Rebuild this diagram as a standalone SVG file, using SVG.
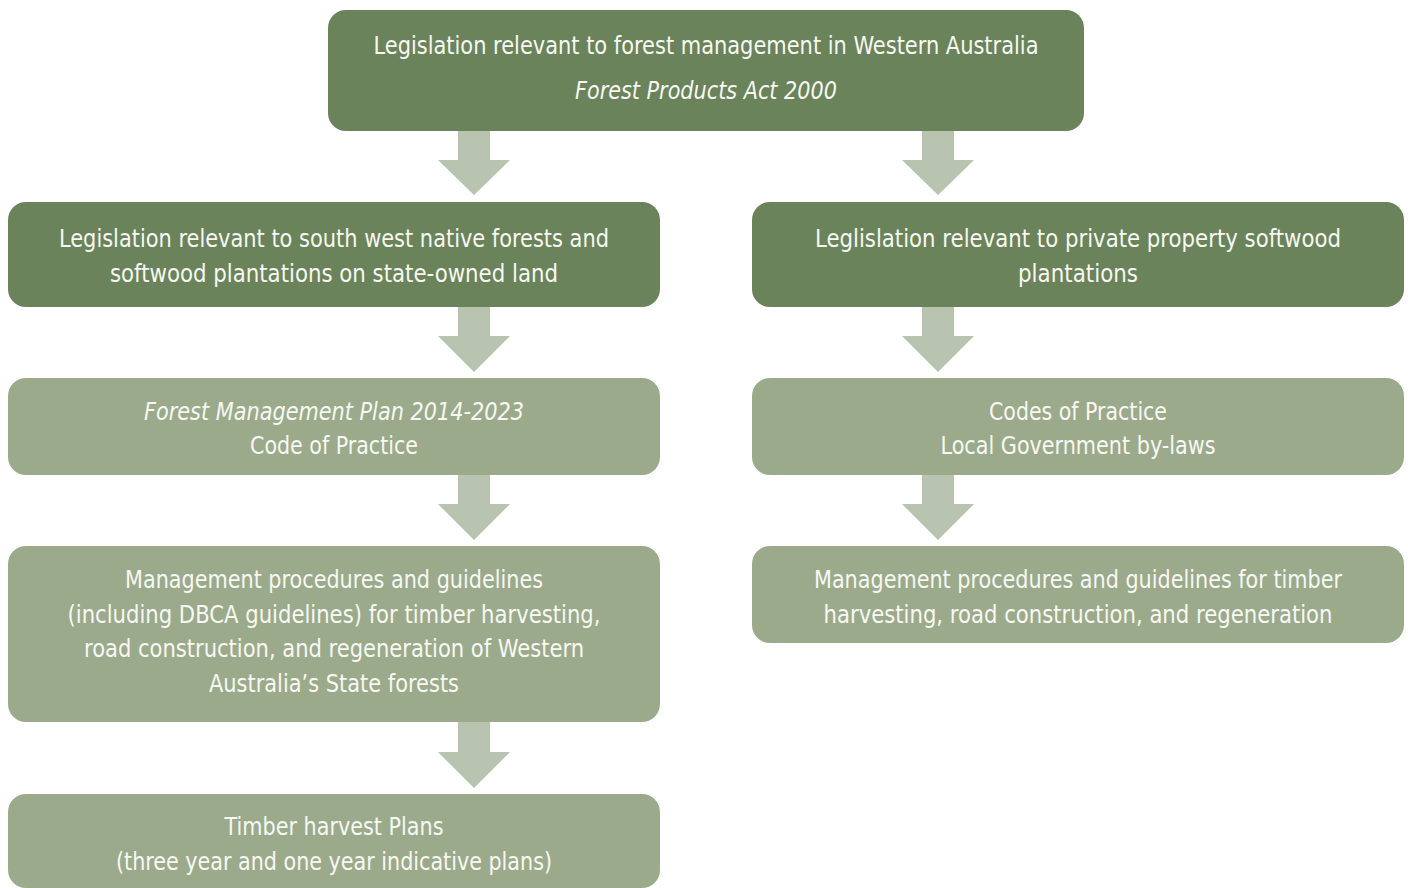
<svg xmlns="http://www.w3.org/2000/svg" width="1408" height="888" viewBox="0 0 1408 888">
<style>
.dark{fill:#6a835a}
.light{fill:#9caa8c}
.arrow{fill:#b8c3b0}
text{font-family:"Liberation Sans Narrow","DejaVu Sans Condensed","Liberation Sans",sans-serif;font-size:25px;fill:#f7f8f3;text-anchor:middle}
.it{font-style:italic}
</style>
<rect width="1408" height="888" fill="#ffffff"/>
<g id="connectors">
<path class="arrow" d="M458,131 H490 V160 H510 L474,195 L438,160 H458 Z"/>
<path class="arrow" d="M922,131 H954 V160 H974 L938,195 L902,160 H922 Z"/>
<path class="arrow" d="M458,307 H490 V336 H510 L474,372 L438,336 H458 Z"/>
<path class="arrow" d="M922,307 H954 V336 H974 L938,372 L902,336 H922 Z"/>
<path class="arrow" d="M458,475 H490 V504 H510 L474,540 L438,504 H458 Z"/>
<path class="arrow" d="M922,475 H954 V504 H974 L938,540 L902,504 H922 Z"/>
<path class="arrow" d="M458,722 H490 V752 H510 L474,788 L438,752 H458 Z"/>
</g>
<g id="top">
<rect class="dark" x="328" y="10" width="756" height="121" rx="18"/>
<text x="706" y="54" textLength="665" lengthAdjust="spacingAndGlyphs">Legislation relevant to forest management in Western Australia</text>
<text class="it" x="706" y="99" textLength="262" lengthAdjust="spacingAndGlyphs">Forest Products Act 2000</text>
</g>
<g id="state-legislation">
<rect class="dark" x="8" y="202" width="652" height="105" rx="18"/>
<text x="334" y="247" textLength="550" lengthAdjust="spacingAndGlyphs">Legislation relevant to south west native forests and</text>
<text x="334" y="282" textLength="448" lengthAdjust="spacingAndGlyphs">softwood plantations on state-owned land</text>
</g>
<g id="private-legislation">
<rect class="dark" x="752" y="202" width="652" height="105" rx="18"/>
<text x="1078" y="247" textLength="526" lengthAdjust="spacingAndGlyphs">Leglislation relevant to private property softwood</text>
<text x="1078" y="282" textLength="120" lengthAdjust="spacingAndGlyphs">plantations</text>
</g>
<g id="fmp">
<rect class="light" x="8" y="378" width="652" height="97" rx="18"/>
<text class="it" x="334" y="420" textLength="380" lengthAdjust="spacingAndGlyphs">Forest Management Plan 2014-2023</text>
<text x="334" y="454" textLength="168" lengthAdjust="spacingAndGlyphs">Code of Practice</text>
</g>
<g id="codes">
<rect class="light" x="752" y="378" width="652" height="97" rx="18"/>
<text x="1078" y="420" textLength="178" lengthAdjust="spacingAndGlyphs">Codes of Practice</text>
<text x="1078" y="454" textLength="275" lengthAdjust="spacingAndGlyphs">Local Government by-laws</text>
</g>
<g id="state-procedures">
<rect class="light" x="8" y="546" width="652" height="176" rx="18"/>
<text x="334" y="588" textLength="418" lengthAdjust="spacingAndGlyphs">Management procedures and guidelines</text>
<text x="334" y="623" textLength="533" lengthAdjust="spacingAndGlyphs">(including DBCA guidelines) for timber harvesting,</text>
<text x="334" y="657" textLength="500" lengthAdjust="spacingAndGlyphs">road construction, and regeneration of Western</text>
<text x="334" y="692" textLength="250" lengthAdjust="spacingAndGlyphs">Australia’s State forests</text>
</g>
<g id="private-procedures">
<rect class="light" x="752" y="546" width="652" height="97" rx="18"/>
<text x="1078" y="588" textLength="528" lengthAdjust="spacingAndGlyphs">Management procedures and guidelines for timber</text>
<text x="1078" y="623" textLength="509" lengthAdjust="spacingAndGlyphs">harvesting, road construction, and regeneration</text>
</g>
<g id="harvest-plans">
<rect class="light" x="8" y="794" width="652" height="94" rx="18"/>
<text x="334" y="835" textLength="219" lengthAdjust="spacingAndGlyphs">Timber harvest Plans</text>
<text x="334" y="870" textLength="436" lengthAdjust="spacingAndGlyphs">(three year and one year indicative plans)</text>
</g>
</svg>
